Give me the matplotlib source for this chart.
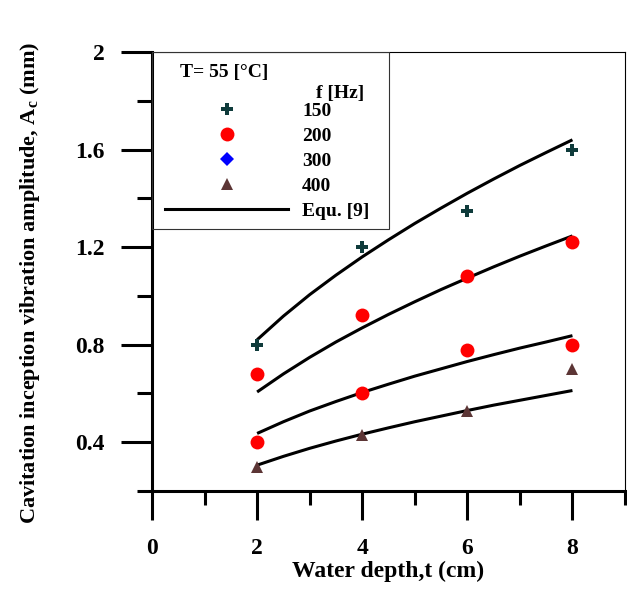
import numpy as np
import matplotlib
matplotlib.use("Agg")
import matplotlib.pyplot as plt
from matplotlib.lines import Line2D
from matplotlib.patches import Rectangle
from matplotlib.ticker import MultipleLocator

plt.rcParams['font.family'] = ['Liberation Serif', 'DejaVu Serif']
plt.rcParams['font.weight'] = 'bold'
plt.rcParams['mathtext.fontset'] = 'custom'
plt.rcParams['mathtext.rm'] = 'Liberation Serif:bold'
plt.rcParams['mathtext.it'] = 'Liberation Serif:bold'
plt.rcParams['mathtext.bf'] = 'Liberation Serif:bold'

# measured amplitudes (mm) vs water depth (cm)
depth = [2, 4, 6, 8]
amp_150 = [0.80, 1.20, 1.35, 1.60]
amp_200 = [0.68, 0.92, 1.08, 1.22]
amp_300 = [0.40, 0.60, 0.78, 0.80]
amp_400 = [0.30, 0.43, 0.53, 0.70]

# Equ. [9] predictions
eq_depth = [2, 2.5, 3, 3.5, 4, 4.5, 5, 5.5, 6, 6.5, 7, 7.5, 8]
eq_150 = [0.820, 0.917, 1.005, 1.085, 1.160, 1.230, 1.297, 1.360, 1.421,
          1.479, 1.535, 1.588, 1.640]
eq_200 = [0.606, 0.680, 0.748, 0.811, 0.869, 0.924, 0.976, 1.026, 1.073,
          1.119, 1.163, 1.205, 1.246]
eq_300 = [0.436, 0.484, 0.528, 0.567, 0.604, 0.638, 0.671, 0.701, 0.731,
          0.759, 0.786, 0.811, 0.837]
eq_400 = [0.306, 0.342, 0.375, 0.405, 0.433, 0.459, 0.484, 0.507, 0.530,
          0.552, 0.572, 0.592, 0.612]

c_150 = '#0f3b3b'
c_200 = '#ff0000'
c_300 = '#0000ff'
c_400 = '#5c3535'

fig = plt.figure(figsize=(6.27, 5.90), dpi=100)
ax = fig.add_axes([152/627, 1-491/590, 473/627, 439/590])

for ys in (eq_150, eq_200, eq_300, eq_400):
    ax.plot(eq_depth, ys, color='black', lw=2.2, solid_capstyle='butt', zorder=2)

ax.plot(depth, amp_150, ls='none', marker='P', ms=9, color=c_150, mew=0, zorder=3)
ax.plot(depth, amp_200, ls='none', marker='o', ms=10, color=c_200, mew=0, zorder=3)
ax.plot(depth, amp_300, ls='none', marker='o', ms=10, color=c_200, mew=0, zorder=3)
ax.plot(depth, amp_400, ls='none', marker='^', ms=9, color=c_400, mew=0, zorder=3)

ax.set_xlim(0, 9)
ax.set_ylim(0.2, 2.0)
ax.xaxis.set_major_locator(MultipleLocator(2))
ax.xaxis.set_minor_locator(MultipleLocator(1))
ax.yaxis.set_minor_locator(MultipleLocator(0.2))
ax.set_yticks([0.4, 0.8, 1.2, 1.6, 2.0])
ax.set_yticklabels(['0.4', '0.8', '1.2', '1.6', '2'])

for side in ('left', 'bottom'):
    ax.spines[side].set_linewidth(2.2)
for side in ('top', 'right'):
    ax.spines[side].set_linewidth(0.8)

ax.tick_params(axis='both', which='major', direction='out', width=2.2,
               labelsize=17)
ax.tick_params(axis='x', which='major', length=21, pad=13)
ax.tick_params(axis='x', which='minor', direction='out', length=10, width=2.2)
ax.tick_params(axis='y', which='major', length=22, pad=12)
ax.tick_params(axis='y', which='minor', direction='out', length=11, width=2.2)

ax.set_xlabel('Water depth,t (cm)', fontsize=17, fontweight='bold', labelpad=1)
ax.set_ylabel('Cavitation inception vibration amplitude, A$_c$ (mm)',
              fontsize=16, fontweight='bold')
ax.yaxis.set_label_coords(-0.232, 0.474)

# legend box
ax.add_patch(Rectangle((0, 0.597), 0.501, 0.403, transform=ax.transAxes,
                       fill=False, lw=0.8, ec='#333333', zorder=4))
ax.text(0.059, 0.954, 'T= 55 [°C]', transform=ax.transAxes, fontsize=14,
        fontweight='bold', va='center', ha='left')
ax.text(0.398, 0.905, 'f [Hz]', transform=ax.transAxes, fontsize=14,
        fontweight='bold', va='center', ha='center')

handles = [
    Line2D([], [], ls='none', marker='P', ms=9, color=c_150, mew=0),
    Line2D([], [], ls='none', marker='o', ms=10, color=c_200, mew=0),
    Line2D([], [], ls='none', marker='D', ms=7, color=c_300, mew=0),
    Line2D([], [], ls='none', marker='^', ms=9, color=c_400, mew=0),
    Line2D([], [], color='black', lw=2.2),
]
labels = ['150', '200', '300', '400', 'Equ. [9]']
ax.legend(handles, labels, loc='upper left',
          bbox_to_anchor=(165/627, 1-102/590), bbox_transform=fig.transFigure,
          frameon=False, borderpad=0, borderaxespad=0,
          handlelength=6.33, handletextpad=0.72, labelspacing=0.38,
          prop={'family': 'Liberation Serif', 'weight': 'bold', 'size': 14})

fig.savefig('out.png', dpi=100)
